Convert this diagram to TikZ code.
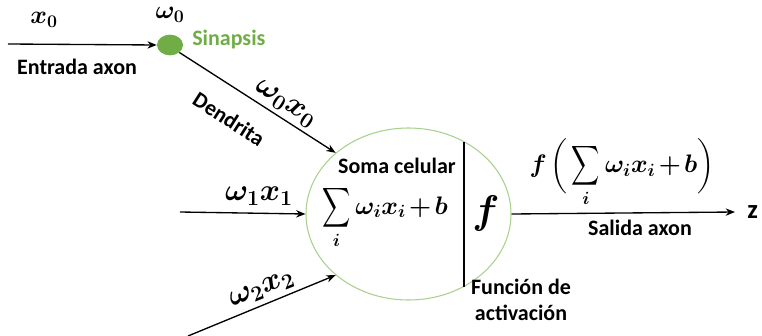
\RequirePackage{fix-cm}
\documentclass[tikz,border=0pt]{standalone}
\usepackage{amsmath}
\usepackage{graphicx}
\usepackage[no-math]{fontspec}
\setmainfont{Carlito}
\usetikzlibrary{arrows.meta,shapes.geometric}
\definecolor{syn}{HTML}{70AD47}
\definecolor{soma}{HTML}{A9D18E}
\newcommand{\tightsum}{\mathop{\vcenter{\hbox{\scalebox{0.85}[1.2]{$\displaystyle\sum$}}}}\limits}
\newcommand{\tightbin}{\medmuskip=2mu\relax}
\begin{document}
\begin{tikzpicture}[x=0.75pt,y=-0.75pt,
  lbl/.style={font=\fontsize{16.5}{19}\selectfont\bfseries, inner sep=0pt, align=center},
  mth/.style={font=\fontsize{19}{22}\selectfont\boldmath\tightbin, inner sep=0pt},
  mthb/.style={font=\fontsize{23}{26}\selectfont\boldmath, inner sep=0pt},
  arr/.style={-{Stealth[length=7pt,width=5.5pt]}, line width=1pt}]
\useasboundingbox (0,0) rectangle (762,335);

% inputs
\coordinate (in0) at (8,44);
\coordinate (in1) at (180,212);
\coordinate (in2) at (188,336);

\node[fill=syn, ellipse, minimum width=19.5pt, minimum height=15.5pt, inner sep=0pt] (syn) at (170,45) {};
\node[draw=soma, line width=0.8pt, ellipse, minimum width=153.75pt, minimum height=129pt, inner sep=0pt] (soma) at (408.5,214) {};

\node[mth] (x0) at (44,20) {$x_0$};
\node[mth] (w0) at (170,15) {$\omega_0$};
\node[lbl, text=syn, anchor=west] (sin) at (192,40) {Sinapsis};
\node[lbl] (ent) at (77,67) {Entrada axon};

\draw[arr] (in0) -- (syn.west);
\draw[arr] (syn.south east) -- (soma.140);
\node[mthb, rotate=-32.6] (w0x0) at (285,104) {$\omega_0 x_0$};
\node[lbl, rotate=-32.6] (den) at (229,119) {Dendrita};

\draw[arr] (in1) -- (soma.west);
\node[mthb] (w1x1) at (259,196) {$\omega_1 x_1$};

\draw[arr] (in2) -- (soma.220);
\node[mthb, rotate=22] (w2x2) at (262,290) {$\omega_2 x_2$};

% inside soma
\draw[line width=1.2pt] (464,142) -- (464,287);
\node[lbl] (somal) at (397,166) {Soma celular};
\node[mth] (sum) at (385,217) {$\displaystyle\tightsum_i \omega_i x_i + b$};
\node[font=\fontsize{30}{32}\selectfont\boldmath, inner sep=0pt] (f) at (486,213) {$f$};

% output
\node[lbl, font=\fontsize{20}{22}\selectfont\bfseries, anchor=west] (z) at (747,212) {z};
\draw[arr] (soma.east) -- ([xshift=-9pt]z.west);
\node[mth] (out) at (622,171) {$f\mskip2mu\bigg(\displaystyle\tightsum_i \omega_i x_i + b\bigg)$};
\node[lbl] (sal) at (640,228) {Salida axon};
\node[lbl] (fa) at (521,300) {Función de\\activación};
\end{tikzpicture}
\end{document}
